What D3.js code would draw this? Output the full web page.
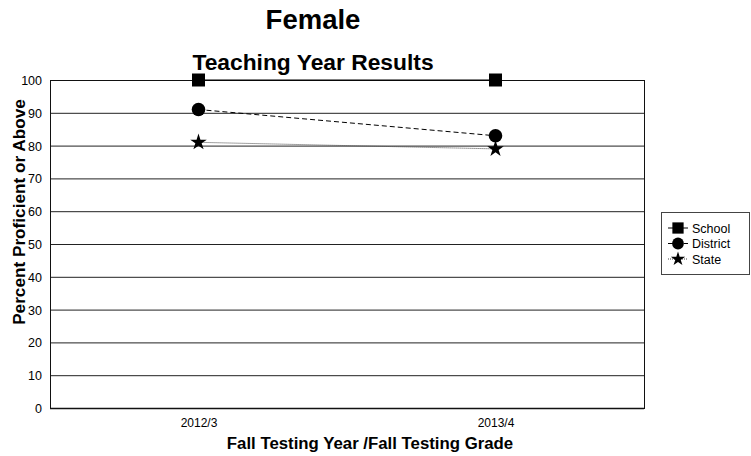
<!DOCTYPE html>
<html><head><meta charset="utf-8">
<script src="https://cdn.jsdelivr.net/npm/d3@7"></script>
<style>body{margin:0;background:#fff}svg{display:block;font-family:"Liberation Sans",Arial,sans-serif}</style>
</head><body><svg id="c" width="751" height="456"></svg>
<script>
const categories = ["2012/3", "2013/4"];
const schoolValues = [100, 100];
const districtValues = [91, 83];
const stateValues = [81, 79];
const yTicks = [0,10,20,30,40,50,60,70,80,90,100];
const seriesNames = ["School", "District", "State"];

const svg = d3.select("#c");
const m = {l:50, r:644, t:80, b:408};
const x = d3.scalePoint().domain(categories).range([m.l, m.r]).padding(0.5);
const y = d3.scaleLinear().domain([0,100]).range([m.b, m.t]);

// gridlines
svg.append("g").selectAll("line").data(yTicks).join("line")
  .attr("x1", m.l).attr("x2", m.r).attr("y1", d=>y(d)+0.5).attr("y2", d=>y(d)+0.5)
  .attr("stroke", "#222").attr("stroke-width", 1);
// frame
svg.append("rect").attr("x", m.l+0.5).attr("y", m.t+0.5).attr("width", m.r-m.l).attr("height", m.b-m.t)
  .attr("fill","none").attr("stroke","#111").attr("stroke-width",1);
svg.append("line").attr("x1",m.l).attr("x2",m.r).attr("y1",m.b+0.5).attr("y2",m.b+0.5).attr("stroke","#111").attr("stroke-width",1.5);

// y axis
const ya = d3.axisLeft(y).tickValues(yTicks).tickSize(0).tickPadding(8);
const gy = svg.append("g").attr("transform",`translate(${m.l},0.5)`).call(ya);
gy.select(".domain").remove();
gy.selectAll("text").attr("font-size",12.5).attr("fill","#000").attr("font-family","Liberation Sans, Arial, sans-serif");

// x axis
const xa = d3.axisBottom(x).tickSize(0).tickPadding(10);
const gx = svg.append("g").attr("transform",`translate(0,${m.b})`).call(xa);
gx.select(".domain").remove();
gx.selectAll("text").attr("font-size",12).attr("fill","#000").attr("font-family","Liberation Sans, Arial, sans-serif");

// titles
svg.append("text").attr("x",313).attr("y",29).attr("text-anchor","middle").attr("font-size",27.5).attr("font-weight","bold").text("Female");
svg.append("text").attr("x",313).attr("y",70).attr("text-anchor","middle").attr("font-size",22.8).attr("font-weight","bold").text("Teaching Year Results");
svg.append("text").attr("x",370).attr("y",449).attr("text-anchor","middle").attr("font-size",16.8).attr("font-weight","bold").text("Fall Testing Year /Fall Testing Grade");
svg.append("text").attr("transform",`translate(25,212) rotate(-90)`).attr("text-anchor","middle").attr("font-size",17.2).attr("font-weight","bold").text("Percent Proficient or Above");

const series = [
  {name: seriesNames[0], values: schoolValues, dash: null, color:"#000", sym: d3.symbolSquare, size: 169},
  {name: seriesNames[1], values: districtValues, dash: "5,3", color:"#000", sym: d3.symbolCircle, size: 145},
  {name: seriesNames[2], values: stateValues, dash: "1,1", color:"#444", sym: d3.symbolStar, size: 85}
];
const line = d3.line().x((d,i)=>x(categories[i])).y(d=>y(d));
series.forEach(s=>{
  svg.append("path").attr("d", line(s.values)).attr("fill","none").attr("stroke",s.color).attr("stroke-width",1)
    .attr("stroke-dasharray", s.dash);
  svg.append("g").selectAll("path").data(s.values).join("path")
    .attr("transform",(d,i)=>`translate(${x(categories[i])},${y(d)})`)
    .attr("d", d3.symbol().type(s.sym).size(s.size)).attr("fill","#000");
});

// legend
const lg = svg.append("g");
lg.append("rect").attr("x",661.5).attr("y",212.5).attr("width",88).attr("height",62).attr("fill","#fff").attr("stroke","#444");
series.forEach((s,i)=>{
  const cy = 228 + i*15.5;
  lg.append("line").attr("x1",668).attr("x2",688).attr("y1",cy).attr("y2",cy).attr("stroke",s.color).attr("stroke-dasharray",s.dash);
  lg.append("path").attr("transform",`translate(678,${cy})`).attr("d",d3.symbol().type(s.sym).size(s.size*0.75)).attr("fill","#000");
  lg.append("text").attr("x",692).attr("y",cy+4.5).attr("font-size",12.5).text(s.name);
});
</script></body></html>
